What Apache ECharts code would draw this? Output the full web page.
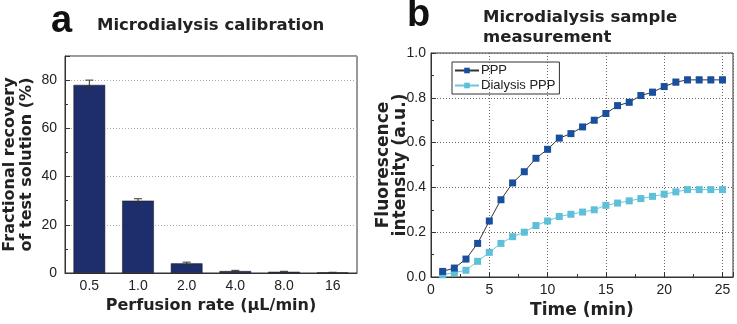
<!DOCTYPE html>
<html>
<head>
<meta charset="utf-8">
<script src="https://cdn.jsdelivr.net/npm/echarts@6/dist/echarts.min.js"></script>
<style>
  html, body { margin: 0; padding: 0; background: #fff; }
  #chart { width: 737px; height: 324px; }
</style>
</head>
<body>
<div id="chart"></div>
<script>
// panel a - calibration bars
var rates = ['0.5', '1.0', '2.0', '4.0', '8.0', '16'];
var recovery = [78, 30, 4, 0.8, 0.5, 0.2];
var recoveryErr = [2, 0.8, 0.5, 0.3, 0.2, 0.1];

// panel b - sample measurement
var times = [1, 2, 3, 4, 5, 6, 7, 8, 9, 10, 11, 12, 13, 14, 15, 16, 17, 18, 19, 20, 21, 22, 23, 24, 25];
var ppp = [0.025, 0.04, 0.08, 0.15, 0.25, 0.345, 0.42, 0.47, 0.53, 0.57, 0.62, 0.64, 0.67, 0.70, 0.73,
  0.765, 0.78, 0.81, 0.825, 0.85, 0.87, 0.88, 0.88, 0.88, 0.88];
var pppErr = [0.008, 0.008, 0.008, 0.008, 0.008, 0.008, 0.008, 0.008, 0.008, 0.008, 0.01, 0.01, 0.01, 0.012, 0.012,
  0.012, 0.012, 0.013, 0.013, 0.013, 0.013, 0.013, 0.013, 0.013, 0.013];
var dialysis = [0.01, 0.02, 0.03, 0.07, 0.11, 0.15, 0.18, 0.20, 0.23, 0.25, 0.27, 0.28, 0.29, 0.30, 0.32,
  0.33, 0.34, 0.35, 0.36, 0.37, 0.38, 0.39, 0.39, 0.39, 0.39];
var dialysisErr = [0.004, 0.004, 0.004, 0.004, 0.004, 0.005, 0.005, 0.005, 0.005, 0.005, 0.005, 0.005, 0.005, 0.005, 0.005,
  0.005, 0.005, 0.005, 0.005, 0.006, 0.006, 0.006, 0.006, 0.006, 0.006];

var FONT = 'Arial, "Liberation Sans", sans-serif';
var BOLD = '"DejaVu Sans", Arial, sans-serif';  // wider bold face, closer to the spaced headings

function pairs(xs, ys) {
  var out = [];
  for (var i = 0; i < xs.length; i++) out.push([xs[i], ys[i]]);
  return out;
}
function errData(xs, ys, es) {
  var out = [];
  for (var i = 0; i < xs.length; i++) out.push([xs[i], ys[i] - es[i], ys[i] + es[i]]);
  return out;
}
function errBar(color, cap) {
  return function (params, api) {
    var lo = api.coord([api.value(0), api.value(1)]);
    var hi = api.coord([api.value(0), api.value(2)]);
    var st = { stroke: color, lineWidth: 1 };
    return {
      type: 'group',
      children: [
        { type: 'line', shape: { x1: lo[0], y1: lo[1], x2: hi[0], y2: hi[1] }, style: st },
        { type: 'line', shape: { x1: lo[0] - cap, y1: lo[1], x2: lo[0] + cap, y2: lo[1] }, style: st },
        { type: 'line', shape: { x1: hi[0] - cap, y1: hi[1], x2: hi[0] + cap, y2: hi[1] }, style: st }
      ]
    };
  };
}

var chart = echarts.init(document.getElementById('chart'));
chart.setOption({
  animation: false,
  textStyle: { fontFamily: FONT },
  title: [
    { text: 'a', left: 46, top: -2, textStyle: { fontSize: 38, fontWeight: 'bold', color: '#111', fontFamily: FONT } },
    { text: 'Microdialysis calibration', left: 92, top: 12, textStyle: { fontSize: 16.5, fontWeight: 'bold', color: '#222', fontFamily: BOLD } },
    { text: 'b', left: 402, top: -8, textStyle: { fontSize: 38, fontWeight: 'bold', color: '#111', fontFamily: FONT } },
    { text: 'Microdialysis sample\nmeasurement', left: 478, top: 3,
      textStyle: { fontSize: 16.5, fontWeight: 'bold', color: '#222', lineHeight: 20, fontFamily: BOLD } }
  ],
  legend: {
    left: 452, top: 62, orient: 'vertical', itemGap: 2, itemWidth: 24, itemHeight: 7,
    borderColor: '#333', borderWidth: 1, padding: [2, 4, 2, 2],
    textStyle: { fontSize: 13, color: '#222', padding: [0, 0, 0, -3] },
    data: ['PPP', 'Dialysis PPP']
  },
  grid: [
    { left: 61, right: 380, top: 56, bottom: 51, show: true, borderColor: '#333', borderWidth: 1 },
    { left: 431, right: 4, top: 53, bottom: 47, show: true, borderColor: '#333', borderWidth: 1 }
  ],
  xAxis: [
    {
      gridIndex: 0, type: 'category', data: rates,
      axisLine: { lineStyle: { color: '#333' } },
      axisTick: { show: false },
      axisLabel: { fontSize: 14, color: '#222', margin: 6 },
      name: 'Perfusion rate (\u03bcL/min)', nameLocation: 'middle', nameGap: 22,
      nameTextStyle: { fontSize: 16, fontWeight: 'bold', color: '#222', fontFamily: BOLD }
    },
    {
      gridIndex: 1, type: 'value', min: 0, max: 25.9, interval: 5,
      axisLine: { lineStyle: { color: '#333' } },
      axisTick: { inside: true, length: 5 },
      minorTick: { show: true, splitNumber: 2, length: 3 },
      axisLabel: { fontSize: 14, color: '#222', margin: 6, showMaxLabel: false },
      splitLine: { show: true, lineStyle: { color: '#666', type: [1, 2] } },
      name: 'Time (min)', nameLocation: 'middle', nameGap: 23,
      nameTextStyle: { fontSize: 17, fontWeight: 'bold', color: '#222', fontFamily: BOLD }
    }
  ],
  yAxis: [
    {
      gridIndex: 0, type: 'value', min: 0, max: 90, interval: 20,
      axisLine: { show: true, lineStyle: { color: '#333' } },
      axisTick: { show: true, inside: true, length: 5 },
      minorTick: { show: true, splitNumber: 2, length: 3 },
      axisLabel: { fontSize: 14, color: '#222', margin: 8, showMaxLabel: false },
      splitLine: { show: true, lineStyle: { color: '#aaa', type: [1, 2] } },
      name: 'Fractional recovery\nof test solution (%)', nameLocation: 'middle', nameGap: 30,
      nameTextStyle: { fontSize: 16, fontWeight: 'bold', color: '#222', lineHeight: 17, fontFamily: BOLD }
    },
    {
      gridIndex: 1, type: 'value', min: 0, max: 1, interval: 0.2,
      axisLine: { show: true, lineStyle: { color: '#333' } },
      axisTick: { show: true, inside: true, length: 5 },
      minorTick: { show: true, splitNumber: 2, length: 3 },
      axisLabel: { fontSize: 14, color: '#222', margin: 5, formatter: function (v) { return v.toFixed(1); } },
      splitLine: { show: true, lineStyle: { color: '#666', type: [1, 2] } },
      name: 'Fluorescence\nintensity (a.u.)', nameLocation: 'middle', nameGap: 22, nameMoveOverlap: false,
      nameTextStyle: { fontSize: 17, fontWeight: 'bold', color: '#222', lineHeight: 17, fontFamily: BOLD }
    }
  ],
  series: [
    {
      type: 'bar', xAxisIndex: 0, yAxisIndex: 0, data: recovery, barWidth: '65%',
      itemStyle: { color: '#1e2d6b', borderColor: '#111', borderWidth: 0.5 }
    },
    {
      type: 'custom', xAxisIndex: 0, yAxisIndex: 0, z: 5,
      data: errData([0, 1, 2, 3, 4, 5], recovery, recoveryErr),
      encode: { x: 0, y: [1, 2] },
      renderItem: errBar('#333', 4)
    },
    {
      name: 'Dialysis PPP', type: 'line', xAxisIndex: 1, yAxisIndex: 1,
      data: pairs(times, dialysis), symbol: 'rect', symbolSize: 7,
      lineStyle: { color: '#6cc5dc', width: 1 }, itemStyle: { color: '#5ebfd9' }
    },
    {
      type: 'custom', xAxisIndex: 1, yAxisIndex: 1, z: 1,
      data: errData(times, dialysis, dialysisErr),
      encode: { x: 0, y: [1, 2] },
      renderItem: errBar('#8fd4e6', 3)
    },
    {
      name: 'PPP', type: 'line', xAxisIndex: 1, yAxisIndex: 1,
      data: pairs(times, ppp), symbol: 'rect', symbolSize: 7,
      lineStyle: { color: '#333', width: 1 }, itemStyle: { color: '#1a4f9e' }
    },
    {
      type: 'custom', xAxisIndex: 1, yAxisIndex: 1, z: 1,
      data: errData(times, ppp, pppErr),
      encode: { x: 0, y: [1, 2] },
      renderItem: errBar('#6f8fc8', 3)
    }
  ]
});
</script>
</body>
</html>
